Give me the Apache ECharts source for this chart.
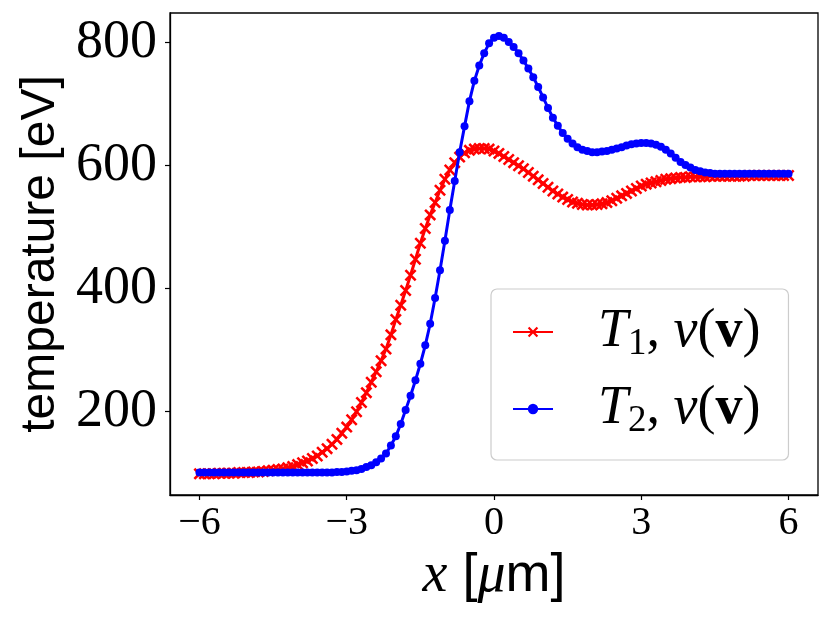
<!DOCTYPE html>
<html>
<head>
<meta charset="utf-8">
<script src="https://cdn.jsdelivr.net/npm/echarts@6.0.0/dist/echarts.min.js"></script>
<style>
  html, body { margin: 0; padding: 0; background: #fff; }
  #chart { width: 830px; height: 618px; }
</style>
</head>
<body>
<div id="chart"></div>
<script>
// x positions [µm]
const xPositions = [
  -6.0,-5.9,-5.8,-5.7,-5.6,-5.5,-5.4,-5.3,-5.2,-5.1,
  -5.0,-4.9,-4.8,-4.7,-4.6,-4.5,-4.4,-4.3,-4.2,-4.1,
  -4.0,-3.9,-3.8,-3.7,-3.6,-3.5,-3.4,-3.3,-3.2,-3.1,
  -3.0,-2.9,-2.8,-2.7,-2.6,-2.5,-2.4,-2.3,-2.2,-2.1,
  -2.0,-1.9,-1.8,-1.7,-1.6,-1.5,-1.4,-1.3,-1.2,-1.1,
  -1.0,-0.9,-0.8,-0.7,-0.6,-0.5,-0.4,-0.3,-0.2,-0.1,
   0.0, 0.1, 0.2, 0.3, 0.4, 0.5, 0.6, 0.7, 0.8, 0.9,
   1.0, 1.1, 1.2, 1.3, 1.4, 1.5, 1.6, 1.7, 1.8, 1.9,
   2.0, 2.1, 2.2, 2.3, 2.4, 2.5, 2.6, 2.7, 2.8, 2.9,
   3.0, 3.1, 3.2, 3.3, 3.4, 3.5, 3.6, 3.7, 3.8, 3.9,
   4.0, 4.1, 4.2, 4.3, 4.4, 4.5, 4.6, 4.7, 4.8, 4.9,
   5.0, 5.1, 5.2, 5.3, 5.4, 5.5, 5.6, 5.7, 5.8, 5.9,
   6.0
];

// T1, nu(v) [eV]  (red, x markers)
const temperatureT1 = [
   99, 99, 99, 99,100,100,100,100,101,101,
  101,102,102,103,104,105,106,107,109,111,
  114,117,120,124,128,134,140,147,155,165,
  175,187,200,215,231,248,265,283,302,325,
  350,373,397,422,448,474,498,520,540,560,
  578,593,605,614,621,625,627,628,628,627,
  624,620,615,610,605,600,595,589,583,577,
  571,565,559,554,549,545,541,539,537,536,
  536,537,538,540,543,547,551,555,559,563,
  567,570,572,574,576,578,579,580,581,581,
  582,582,582,582,583,583,583,583,583,583,
  583,583,584,584,584,584,584,584,584,584,
  584
];

// T2, nu(v) [eV]  (blue, dot markers)
const temperatureT2 = [
  101,101,101,101,101,101,101,101,101,101,
  101,101,101,101,101,101,101,101,101,101,
  101,101,101,101,101,101,101,101,102,102,
  103,104,105,107,110,113,118,124,132,145,
  160,180,203,226,251,278,308,343,385,430,
  478,528,575,622,664,705,738,763,783,799,
  808,811,808,801,793,783,771,758,744,728,
  711,694,678,665,653,644,636,630,626,624,
  622,622,623,624,626,628,630,633,635,636,
  637,637,636,634,631,626,620,613,606,601,
  597,593,591,589,588,587,587,587,587,587,
  587,587,587,587,587,587,587,587,587,587,
  587
];

const xTicks = [-6, -3, 0, 3, 6];
const yTicks = [200, 400, 600, 800];

const seriesNames = ['T1', 'T2'];

const pairs = (xs, ys) => xs.map((x, i) => [x, ys[i]]);

const crossPath = 'path://M0,1.5 L1.5,0 L5,3.5 L8.5,0 L10,1.5 L6.5,5 L10,8.5 L8.5,10 L5,6.5 L1.5,10 L0,8.5 L3.5,5 Z';

const legendRich = {
  pad: { width: 40, fontSize: 53, lineHeight: 62 },
  it: { fontFamily: 'Liberation Serif', fontStyle: 'italic', fontSize: 54, lineHeight: 62, color: '#000' },
  sub: { fontFamily: 'Liberation Serif', fontSize: 37, lineHeight: 62, verticalAlign: 'bottom', color: '#000' },
  rm: { fontFamily: 'Liberation Serif', fontSize: 54, lineHeight: 62, color: '#000' },
  bf: { fontFamily: 'Liberation Serif', fontWeight: 'bold', fontSize: 54, lineHeight: 62, color: '#000' }
};

const chart = echarts.init(document.getElementById('chart'), null, { renderer: 'canvas' });

chart.setOption({
  animation: false,
  backgroundColor: '#fff',
  grid: {
    left: 170, right: 12, top: 13, bottom: 123,
    show: true, borderColor: '#000', borderWidth: 1.3, backgroundColor: 'transparent'
  },
  xAxis: {
    type: 'value',
    min: -6.6, max: 6.6,
    name: '{mi|x}{ss| [}{mi|μ}{ss|m]}',
    nameLocation: 'middle',
    nameGap: 48,
    nameTextStyle: {
      rich: {
        mi: { fontFamily: 'Liberation Serif', fontStyle: 'italic', fontSize: 56, color: '#000' },
        ss: { fontFamily: 'Liberation Sans', fontSize: 54, color: '#000' }
      }
    },
    axisLine: { show: true, onZero: false, lineStyle: { color: '#000', width: 1.3 } },
    axisTick: { show: true, customValues: xTicks, length: 5, inside: false, lineStyle: { color: '#000', width: 1.2 } },
    axisLabel: {
      customValues: xTicks,
      margin: 8,
      fontFamily: 'Liberation Serif', fontSize: 40, color: '#000',
      formatter: v => (v < 0 ? '\u2212' + Math.abs(v) : String(v))
    },
    splitLine: { show: false }
  },
  yAxis: {
    type: 'value',
    min: 64.6, max: 848.3,
    name: 'temperature [eV]',
    nameLocation: 'middle',
    nameRotate: 90,
    nameGap: 103,
    nameTextStyle: { fontFamily: 'Liberation Sans', fontSize: 48, color: '#000' },
    axisLine: { show: true, onZero: false, lineStyle: { color: '#000', width: 1.3 } },
    axisTick: { show: true, customValues: yTicks, length: 5, inside: false, lineStyle: { color: '#000', width: 1.2 } },
    axisLabel: {
      customValues: yTicks,
      margin: 13,
      fontFamily: 'Liberation Serif', fontSize: 54, color: '#000'
    },
    splitLine: { show: false }
  },
  legend: {
    show: true,
    left: 491, top: 289,
    orient: 'vertical',
    padding: [16, 28, 20, 21],
    itemGap: 19,
    itemWidth: 40,
    itemHeight: 13,
    backgroundColor: 'rgba(255,255,255,0.8)',
    borderColor: '#cccccc',
    borderWidth: 1.2,
    borderRadius: 6,
    data: seriesNames,
    formatter: name => {
      const idx = name === 'T1' ? '1' : '2';
      return '{pad|}{it|T}{sub|' + idx + '}{rm|, }{it|ν}{rm|(}{bf|v}{rm|)}';
    },
    textStyle: { rich: legendRich, color: '#000' }
  },
  series: [
    {
      name: 'T1',
      type: 'line',
      data: pairs(xPositions, temperatureT1),
      color: '#ff0000',
      symbol: crossPath,
      symbolSize: 12,
      showAllSymbol: true,
      lineStyle: { color: '#ff0000', width: 3 },
      itemStyle: { color: '#ff0000', borderWidth: 0 },
      z: 2
    },
    {
      name: 'T2',
      type: 'line',
      data: pairs(xPositions, temperatureT2),
      color: '#0000ff',
      symbol: 'circle',
      symbolSize: 8,
      showAllSymbol: true,
      lineStyle: { color: '#0000ff', width: 3 },
      itemStyle: { color: '#0000ff', borderWidth: 0 },
      z: 3
    }
  ]
});
</script>
</body>
</html>
